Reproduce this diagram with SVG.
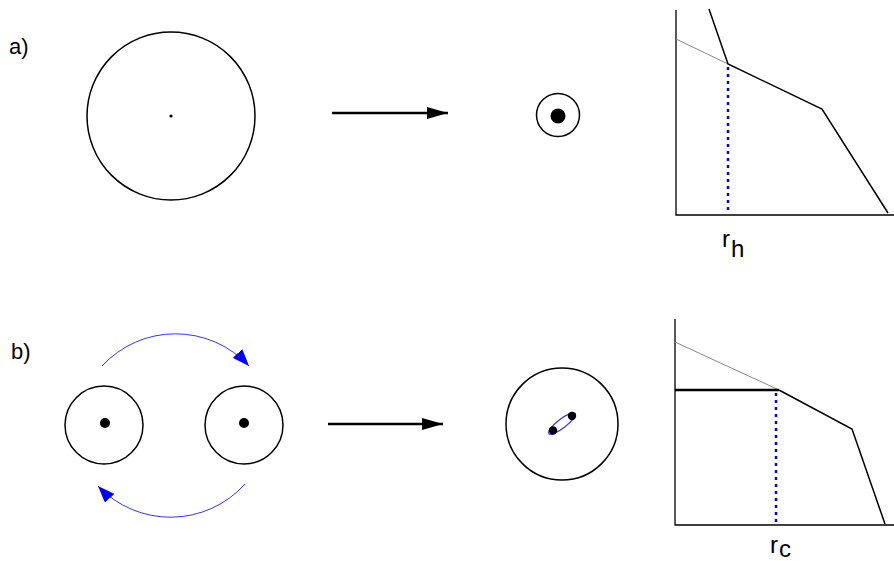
<svg xmlns="http://www.w3.org/2000/svg" width="894" height="561" viewBox="0 0 894 561">
<defs>
<marker id="blk" markerWidth="22" markerHeight="12" refX="21" refY="6" orient="auto" markerUnits="userSpaceOnUse">
<path d="M0,0 L21,6 L0,12 Z" fill="#000"/>
</marker>
<marker id="blu" markerWidth="18" markerHeight="13" refX="17" refY="6.5" orient="auto" markerUnits="userSpaceOnUse">
<path d="M0,0 L17,6.5 L0,13 Z" fill="#0000ff"/>
</marker>
</defs>
<style>
.c{fill:none;stroke:#000;stroke-width:1.5}
.d{fill:#000}
.ax{fill:none;stroke:#000;stroke-width:1.3}
.g{fill:none;stroke:#000;stroke-width:1.5;stroke-linejoin:miter}
.gr{fill:none;stroke:#888;stroke-width:1}
.bd{fill:none;stroke:#0000ff;stroke-width:2.5;stroke-dasharray:3,4}
.ba{fill:none;stroke:#3333ff;stroke-width:1}
.t{font-family:"Liberation Sans",Arial,sans-serif;font-size:22px;fill:#000}
.s{font-family:"Liberation Sans",Arial,sans-serif;font-size:24px;fill:#000}
</style>
<rect width="894" height="561" fill="#fff"/>
<text class="t" x="9" y="54">a)</text>
<text class="t" x="11" y="359">b)</text>
<g id="big-cloud-a">
<circle class="c" cx="171" cy="116" r="84"/>
<circle class="d" cx="171" cy="116" r="1.6"/>
</g>
<g id="core-a">
<circle class="c" cx="558" cy="115" r="21.5"/>
<circle class="d" cx="558" cy="116" r="7.5"/>
</g>
<g id="graph-a">
<path class="ax" d="M676,10 V215 H894"/>
<path class="gr" d="M676,39 L728,64"/>
<path class="g" d="M709,9 L728,64 L822,109 L888,213"/>
<path class="bd" d="M728,67 V212"/>
<text class="s" x="722" y="247">r</text>
<text class="s" x="731" y="257">h</text>
</g>
<g id="cloud-b1">
<circle class="c" cx="104" cy="425" r="39"/>
<circle class="d" cx="105" cy="423" r="5"/>
</g>
<g id="cloud-b2">
<circle class="c" cx="244" cy="425" r="39"/>
<circle class="d" cx="244" cy="423" r="5"/>
</g>
<g id="merged-b">
<circle class="c" cx="562" cy="424" r="56"/>
<ellipse cx="562" cy="423.5" rx="16.5" ry="4.5" transform="rotate(-37.6 562 423.5)" fill="none" stroke="#3333ff" stroke-width="1.2"/>
<circle class="d" cx="553" cy="430.5" r="4.2"/>
<circle class="d" cx="572" cy="416" r="4.2"/>
</g>
<g id="graph-b">
<path class="ax" d="M675,319 V525 H894"/>
<path class="gr" d="M675,342 L779,390"/>
<path d="M675,390 H779" fill="none" stroke="#000" stroke-width="2.5"/>
<path class="g" d="M779,390 L852,429 L885,524"/>
<path class="bd" d="M776,393 V524"/>
<text class="s" x="770" y="553">r</text>
<text class="s" x="779" y="557">c</text>
</g>
<g id="connectors">
<path d="M332,113 H448" fill="none" stroke="#000" stroke-width="2.5" marker-end="url(#blk)"/>
<path d="M328,424 H443" fill="none" stroke="#000" stroke-width="2.5" marker-end="url(#blk)"/>
<path class="ba" d="M102,366 A100,100 0 0 1 249,366" marker-end="url(#blu)"/>
<path class="ba" d="M245,484 A100,100 0 0 1 98,486" marker-end="url(#blu)"/>
</g>
</svg>
